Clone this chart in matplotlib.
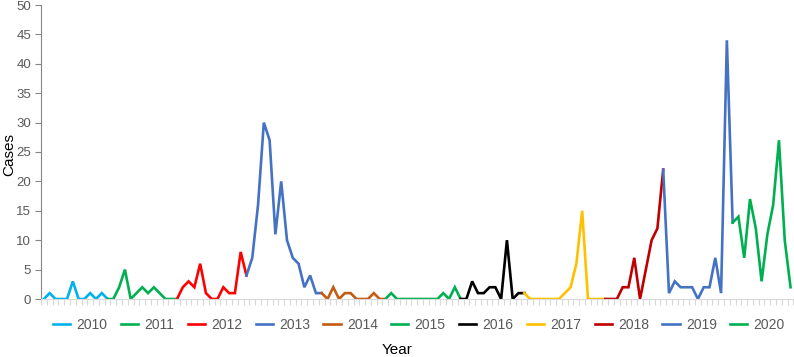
import matplotlib
matplotlib.use('Agg')
import matplotlib.pyplot as plt
import numpy as np

# Monthly cases per year
years = ["2010", "2011", "2012", "2013", "2014", "2015",
         "2016", "2017", "2018", "2019", "2020"]
cases_2010 = [0, 1, 0, 0, 0, 3, 0, 0, 1, 0, 1, 0]
cases_2011 = [0, 2, 5, 0, 1, 2, 1, 2, 1, 0, 0, 0]
cases_2012 = [2, 3, 2, 6, 1, 0, 0, 2, 1, 1, 8, 4]
cases_2013 = [7, 16, 30, 27, 11, 20, 10, 7, 6, 2, 4, 1, 1]
cases_2014 = [0, 2, 0, 1, 1, 0, 0, 0, 1, 0, 0]
cases_2015 = [1, 0, 0, 0, 0, 0, 0, 0, 0, 1, 0, 2, 0]
cases_2016 = [0, 3, 1, 1, 2, 2, 0, 10, 0, 1, 1]
cases_2017 = [0, 0, 0, 0, 0, 0, 1, 2, 6, 15, 0, 0, 0, 0]
cases_2018 = [0, 0, 2, 2, 7, 0, 5, 10, 12, 22]
cases_2019 = [1, 3, 2, 2, 2, 0, 2, 2, 7, 1, 44, 13]
cases_2020 = [14, 7, 17, 12, 3, 11, 16, 27, 10, 2]

series = [cases_2010, cases_2011, cases_2012, cases_2013, cases_2014, cases_2015,
          cases_2016, cases_2017, cases_2018, cases_2019, cases_2020]
colors = ["#00b0f0", "#00b050", "#ff0000", "#4472c4", "#c55a11", "#00b050",
          "#000000", "#ffc000", "#c00000", "#4472c4", "#00b050"]

plt.rcParams['font.family'] = ['Liberation Sans', 'DejaVu Sans']

fig = plt.figure(figsize=(7.94, 3.57), dpi=100)
ax = fig.add_axes([41/794, 1-299/357, 753/794, 294/357])

# Each year is drawn from the last point of the previous year
start = 0
prev_x, prev_y = None, None
for name, vals, c in zip(years, series, colors):
    x = list(np.arange(start, start + len(vals)))
    y = list(vals)
    if prev_x is not None:
        x = [prev_x] + x
        y = [prev_y] + y
    ax.plot(x, y, color=c, lw=1.9, label=name, solid_joinstyle='miter')
    start += len(vals)
    prev_x, prev_y = x[-1], y[-1]

n = start
ax.set_xlim(-0.4, n - 0.4)
ax.set_ylim(0, 50)
ax.set_yticks(np.arange(0, 51, 5))
ax.set_xticks(np.arange(-0.5, n, 1))
ax.set_xticklabels([])

for s in ["top", "right"]:
    ax.spines[s].set_visible(False)
ax.spines["left"].set_color("#868686")
ax.spines["bottom"].set_color("#d9d9d9")
ax.tick_params(axis="y", colors="#868686", labelcolor="#595959", labelsize=9.5,
               length=4, direction="out", pad=3)
ax.tick_params(axis="x", colors="#d9d9d9", length=4, direction="out")

fig.text(9/794, 1-155/357, "Cases", rotation=90, ha="center", va="center", fontsize=11)
fig.text(397/794, 1-350/357, "Year", ha="center", va="center", fontsize=11)

fig.legend(loc="center", bbox_to_anchor=(419/794, 1-325/357), ncol=11, frameon=False,
           fontsize=10, handlelength=1.25, handletextpad=0.45, columnspacing=0.95,
           labelcolor="#595959")

fig.savefig("out.png", dpi=100)
